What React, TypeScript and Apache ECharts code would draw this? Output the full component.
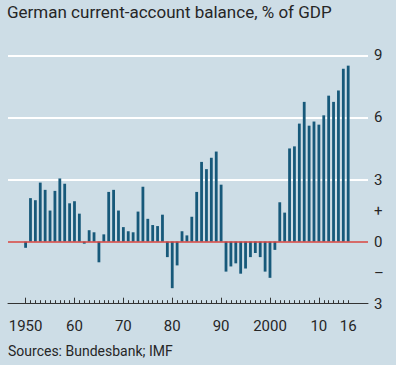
import React, { useEffect, useRef } from 'react';
import * as echarts from 'echarts';

const years = [
  1950, 1951, 1952, 1953, 1954, 1955, 1956, 1957, 1958, 1959,
  1960, 1961, 1962, 1963, 1964, 1965, 1966, 1967, 1968, 1969,
  1970, 1971, 1972, 1973, 1974, 1975, 1976, 1977, 1978, 1979,
  1980, 1981, 1982, 1983, 1984, 1985, 1986, 1987, 1988, 1989,
  1990, 1991, 1992, 1993, 1994, 1995, 1996, 1997, 1998, 1999,
  2000, 2001, 2002, 2003, 2004, 2005, 2006, 2007, 2008, 2009,
  2010, 2011, 2012, 2013, 2014, 2015, 2016,
];

const balance = [
  -0.3, 2.1, 2.0, 2.85, 2.5, 1.5, 2.45, 3.05, 2.8, 1.85,
  1.95, 1.35, -0.1, 0.55, 0.45, -1.0, 0.35, 2.4, 2.5, 1.5,
  0.7, 0.5, 0.45, 1.45, 2.65, 1.1, 0.8, 0.75, 1.3, -0.75,
  -2.25, -1.15, 0.5, 0.3, 1.2, 2.4, 3.85, 3.5, 4.05, 4.35,
  2.75, -1.45, -1.2, -1.05, -1.55, -1.3, -0.75, -0.55, -0.75, -1.45,
  -1.75, -0.4, 1.9, 1.4, 4.5, 4.6, 5.7, 6.75, 5.6, 5.8,
  5.65, 6.1, 7.05, 6.75, 7.3, 8.35, 8.5,
];

const decadeYears = [1950, 1960, 1970, 1980, 1990, 2000, 2010];
const xLabelYears = [1950, 1960, 1970, 1980, 1990, 2000, 2010, 2016];
const xLabelTexts = ['1950', '60', '70', '80', '90', '2000', '10', '16'];

const yTickValues = [-3, -1.5, 0, 1.5, 3, 4.5, 6, 7.5, 9];
const yTickTexts = ['3', '\u2013', '0', '+', '3', '', '6', '', '9'];
const yGridColors = ['rgba(0,0,0,0)', 'rgba(0,0,0,0)', 'rgba(0,0,0,0)', 'rgba(0,0,0,0)', '#ffffff', 'rgba(0,0,0,0)', '#ffffff', 'rgba(0,0,0,0)', '#ffffff'];

const TITLE = 'German current-account balance, % of GDP';
const SOURCE = 'Sources: Bundesbank; IMF';

const FONT = 'Roboto, "Noto Sans", sans-serif';
const BG = '#cddde6';
const BAR = '#17597a';
const RED = '#d9443f';
const INK = '#262626';

export default function App() {
  const ref = useRef<HTMLDivElement>(null);

  useEffect(() => {
    if (!ref.current) return;
    const chart = echarts.init(ref.current, null, { renderer: 'svg' });
    const xMin = 1946.4;
    const xMax = 2020.05;
    const option: any = {
      animation: false,
      backgroundColor: BG,
      textStyle: { fontFamily: FONT },
      grid: { left: 8, right: 28, top: 55.3, bottom: 61.3, containLabel: false },
      graphic: [
        {
          type: 'text',
          x: 7,
          y: 11.7,
          style: { text: TITLE, fill: INK, font: `17px ${FONT}`, verticalAlign: 'middle', textAlign: 'left' },
        },
        {
          type: 'text',
          x: 8,
          y: 351,
          style: { text: SOURCE, fill: INK, font: `14px ${FONT}`, verticalAlign: 'middle', textAlign: 'left' },
        },
      ],
      xAxis: [
        {
          type: 'value',
          min: xMin,
          max: xMax,
          position: 'bottom',
          axisLine: { show: true, onZero: false, lineStyle: { color: '#333333', width: 1 } },
          axisTick: { show: true, inside: true, length: 3.5, customValues: years, lineStyle: { color: '#333333', width: 1 } },
          axisLabel: {
            show: true,
            customValues: xLabelYears,
            margin: 15,
            fontSize: 15,
            color: INK,
            fontFamily: FONT,
            formatter: (v: number) => {
              const i = xLabelYears.indexOf(Math.round(v));
              return i >= 0 ? xLabelTexts[i] : '';
            },
          },
          splitLine: { show: false },
        },
        {
          type: 'value',
          min: xMin,
          max: xMax,
          position: 'bottom',
          offset: 0,
          axisLine: { show: false, onZero: false },
          axisTick: { show: true, inside: true, length: 6, customValues: decadeYears, lineStyle: { color: '#333333', width: 1 } },
          axisLabel: { show: false },
          splitLine: { show: false },
        },
      ],
      yAxis: {
        type: 'value',
        position: 'right',
        min: -3,
        max: 9,
        interval: 1.5,
        axisLine: { show: false },
        axisTick: { show: false },
        axisLabel: {
          margin: 6,
          fontSize: 15,
          color: INK,
          fontFamily: FONT,
          formatter: (v: number) => {
            const i = yTickValues.findIndex((t) => Math.abs(t - v) < 1e-6);
            return i >= 0 ? yTickTexts[i] : '';
          },
        },
        splitLine: { show: true, showMinLine: true, showMaxLine: true, lineStyle: { color: yGridColors, width: 2 } },
      },
      series: [
        {
          type: 'bar',
          xAxisIndex: 0,
          yAxisIndex: 0,
          barWidth: 2.8,
          itemStyle: { color: BAR },
          data: years.map((y, i) => [y, balance[i]]),
          markLine: {
            silent: true,
            symbol: 'none',
            label: { show: false },
            lineStyle: { color: RED, width: 1.5, type: 'solid' },
            data: [{ yAxis: 0 }],
          },
        },
      ],
    };
    chart.setOption(option);
    return () => chart.dispose();
  }, []);

  return (
    <div
      ref={ref}
      style={{ position: 'fixed', left: 0, top: 0, width: 396, height: 365 }}
    />
  );
}
